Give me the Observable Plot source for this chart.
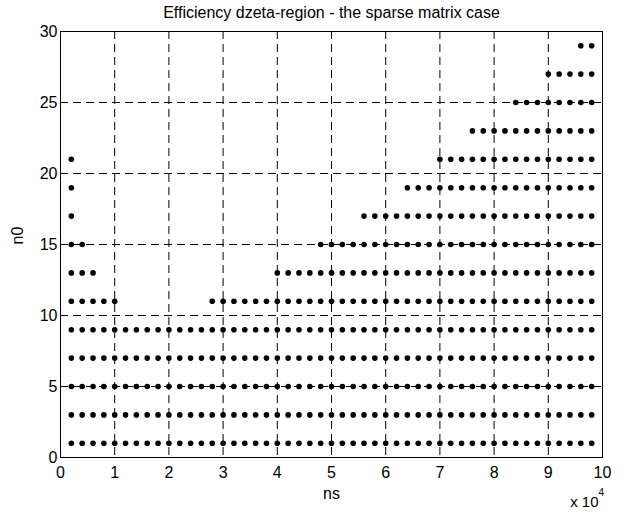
<!DOCTYPE html>
<html>
<head>
<meta charset="utf-8">
<script src="https://cdn.jsdelivr.net/npm/d3@7"></script>
<script src="https://cdn.jsdelivr.net/npm/@observablehq/plot@0.6"></script>
<style>
  html, body { margin: 0; padding: 0; background: #fff; }
  #chart svg { display: block; }
</style>
</head>
<body>
<div id="chart"></div>
<script>
// Grid of ns values at which the region was evaluated
const nsGrid = [2000, 4000, 6000, 8000, 10000, 12000, 14000, 16000, 18000, 20000,
  22000, 24000, 26000, 28000, 30000, 32000, 34000, 36000, 38000, 40000,
  42000, 44000, 46000, 48000, 50000, 52000, 54000, 56000, 58000, 60000,
  62000, 64000, 66000, 68000, 70000, 72000, 74000, 76000, 78000, 80000,
  82000, 84000, 86000, 88000, 90000, 92000, 94000, 96000, 98000];

// Runs of efficient points: row n0, from ns, to ns (inclusive)
const segRow  = [1, 3, 5, 7, 9, 11, 11, 13, 13, 15, 15, 17, 17, 19, 19, 21, 21, 23, 25, 27, 29];
const segFrom = [2000, 2000, 2000, 2000, 2000, 2000, 28000, 2000, 40000, 2000, 48000,
                 2000, 56000, 2000, 64000, 2000, 70000, 76000, 84000, 90000, 96000];
const segTo   = [98000, 98000, 98000, 98000, 98000, 10000, 98000, 6000, 98000, 4000, 98000,
                 2000, 98000, 2000, 98000, 2000, 98000, 98000, 98000, 98000, 98000];

const xTicks = [0, 10000, 20000, 30000, 40000, 50000, 60000, 70000, 80000, 90000, 100000];
const yTicks = [0, 5, 10, 15, 20, 25, 30];

const titleText = "Efficiency dzeta-region - the sparse matrix case";
const xLabel = "ns";
const yLabel = "n0";

const points = [];
segRow.forEach((r, i) => {
  nsGrid.filter(x => x >= segFrom[i] && x <= segTo[i]).forEach(x => points.push({ns: x, n0: r}));
});

const font = "'Liberation Sans', Arial, Helvetica, sans-serif";

const chart = Plot.plot({
  width: 625,
  height: 513,
  marginLeft: 60,
  marginRight: 23,
  marginTop: 31,
  marginBottom: 56,
  style: {fontFamily: font, background: "#fff", color: "#000"},
  x: {domain: [0, 100000], ticks: xTicks, tickFormat: d => String(d / 10000)},
  y: {domain: [0, 30], ticks: yTicks},
  marks: [
    Plot.gridX(xTicks, {stroke: "#000", strokeOpacity: 1, strokeDasharray: "8,5", strokeWidth: 1}),
    Plot.gridY(yTicks, {stroke: "#000", strokeOpacity: 1, strokeDasharray: "8,5", strokeWidth: 1}),
    Plot.axisX({ticks: xTicks, tickFormat: d => String(d / 10000), tickSize: 0, tickPadding: 9, fontSize: 16, label: null}),
    Plot.axisY({ticks: yTicks, tickSize: 0, tickPadding: 3, fontSize: 16, label: null}),
    Plot.dot(points, {x: "ns", y: "n0", r: 2.8, fill: "#000", stroke: "none"}),
    Plot.frame({stroke: "#000", strokeWidth: 1}),
    Plot.text([titleText], {frameAnchor: "top", dy: -19, fontSize: 16, fill: "#000", lineAnchor: "middle"}),
    Plot.text([xLabel], {frameAnchor: "bottom", dy: 36, fontSize: 16, fill: "#000", lineAnchor: "middle"}),
    Plot.text([yLabel], {frameAnchor: "left", dx: -43, rotate: -90, fontSize: 16, fill: "#000", lineAnchor: "middle"}),
    Plot.text(["x 10"], {frameAnchor: "bottom-right", textAnchor: "end", dx: -4, dy: 45, fontSize: 15, fill: "#000", lineAnchor: "middle"}),
    Plot.text(["4"], {frameAnchor: "bottom-right", textAnchor: "start", dx: -4, dy: 35, fontSize: 10, fill: "#000", lineAnchor: "middle"})
  ]
});

document.getElementById("chart").appendChild(chart);
</script>
</body>
</html>
